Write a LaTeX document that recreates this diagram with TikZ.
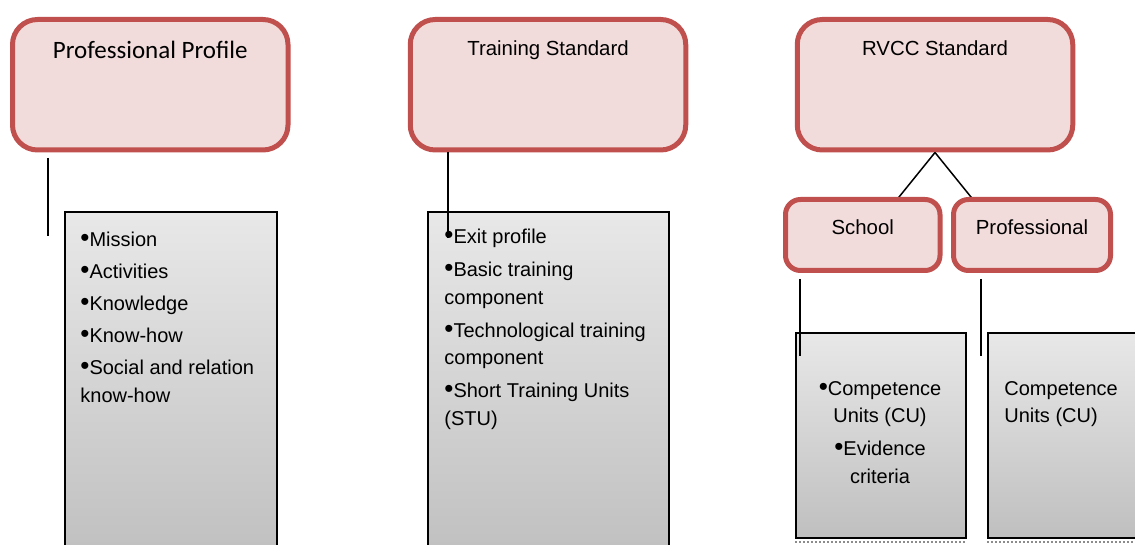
\documentclass[tikz,border=0pt]{standalone}
\usepackage{fontspec}
\setmainfont{Liberation Sans}
\newfontfamily\calibri{Carlito}
\definecolor{boxred}{HTML}{C0504D}
\definecolor{boxpink}{HTML}{F2DCDB}
\newcommand{\bul}{{\fontsize{13}{13}\selectfont•}}
\tikzset{
  headbox/.style={draw=boxred, fill=boxpink, line width=2.5pt, rounded corners=12.5pt,
    inner sep=0pt, minimum width=137.75pt, text height=18.25pt, text depth=47pt,
    font=\fontsize{10.2}{12}\selectfont},
  subbox/.style={headbox, rounded corners=7.5pt, text height=17.75pt, text depth=17.75pt},
  listbox/.style={draw=black, line width=0.85pt, top color=black!9, bottom color=black!25,
    anchor=north west, inner sep=0pt},
  listtext/.style={inner sep=0pt, font=\fontsize{10}{13.75}\selectfont},
}

\begin{document}
\begin{tikzpicture}[x=0.5pt,y=-0.5pt]
\useasboundingbox (0,0) rectangle (1135,545);
% standards
\node[headbox, font=\calibri\fontsize{12.5}{15}\selectfont, text height=19.4pt, text depth=45.85pt] (pp) at (150.25,84.75) {Professional Profile};
\node[headbox] (ts) at (548,84.75) {Training Standard};
\node[headbox] (rv) at (935,84.75) {RVCC Standard};
% contents
\node[listbox, minimum width=106pt, minimum height=174.5pt] (ppl) at (64,211) {};
\node[listbox, minimum width=120.5pt, minimum height=174.5pt] (tsl) at (427,211) {};
\node[listbox, minimum width=85pt, minimum height=102.5pt] (schl) at (795,332) {};
\node[listbox, minimum width=81.5pt, minimum height=102.5pt] (prol) at (987,332) {};
\draw[black!45, densely dotted, line width=1pt] ([yshift=-1.75pt]schl.south west) -- ([yshift=-1.75pt]schl.south east);
\draw[black!45, densely dotted, line width=1pt] ([yshift=-1.75pt]prol.south west) -- ([yshift=-1.75pt]prol.south east);
\node[listtext, anchor=north west, align=left] (ppt) at (80,232)
  {\bul Mission\\[2.25pt]\bul Activities\\[2.25pt]\bul Knowledge\\[2.25pt]\bul Know-how\\[2.25pt]\bul Social and relation\\know-how};
\node[listtext, anchor=north west, align=left] (tst) at (444,229)
  {\bul Exit profile\\[2.75pt]\bul Basic training\\component\\[2.75pt]\bul Technological training\\component\\[2.75pt]\bul Short Training Units\\(STU)};
\node[listtext, anchor=north, align=center] (scht) at (880,381)
  {\bul Competence\\Units (CU)\\[2.75pt]\bul Evidence\\criteria};
\node[listtext, anchor=north west, align=left] (prot) at (1004,381)
  {Competence\\Units (CU)};
% links
\coordinate (pp1) at (48,158);
\coordinate (pp2) at (48,236);
\coordinate (ts2) at (448,238);
\coordinate (sc1) at (800,279);
\coordinate (sc2) at (800,356);
\coordinate (pr1) at (981,279);
\coordinate (pr2) at (981,356);
\path[line width=0.75pt]
(pp1) edge (pp2)
(ts2 |- ts.south) edge (ts2)
(sc1) edge (sc2)
(pr1) edge (pr2)
(rv.south) edge (897,199.5)
(rv.south) edge (973,199.5)
;
\node[subbox, minimum width=77.25pt] (sch) at (862.75,235) {School};
\node[subbox, minimum width=78.5pt] (pro) at (1032,235) {Professional};
\end{tikzpicture}
\end{document}
